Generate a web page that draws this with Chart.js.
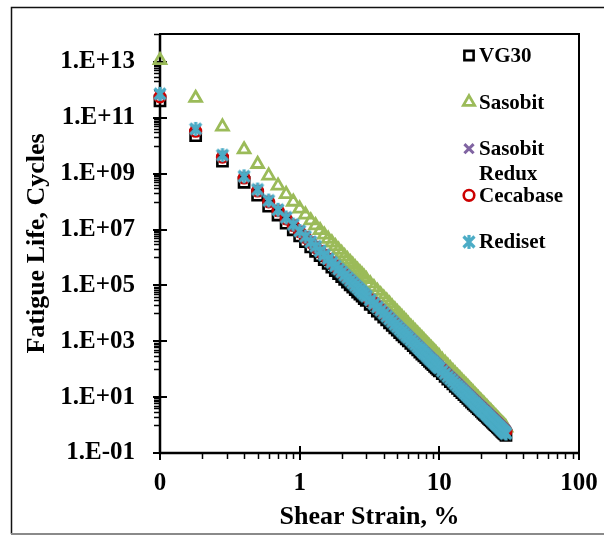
<!DOCTYPE html>
<html>
<head>
<meta charset="utf-8">
<script src="https://cdn.jsdelivr.net/npm/chart.js@4.4.1/dist/chart.umd.min.js"></script>
<style>
  html, body { margin: 0; padding: 0; background: #fff; }
  #wrap { width: 604px; height: 536px; }
</style>
</head>
<body>
<div id="wrap"><canvas id="chart" width="604" height="536"></canvas></div>
<script>
// Shear strain (%) at which fatigue life was evaluated
const strain = [
  0.1, 0.18, 0.28, 0.4, 0.5, 0.6, 0.7, 0.8, 0.9, 1.0,
  1.1, 1.2, 1.3, 1.4, 1.5, 1.6, 1.7, 1.8, 1.9, 2.0,
  2.1, 2.2, 2.3, 2.4, 2.5, 2.6, 2.7, 2.8, 2.9, 3.0,
  3.2, 3.4, 3.6, 3.8, 4.0, 4.2, 4.4, 4.6, 4.8, 5.0,
  5.2, 5.4, 5.6, 5.8, 6.0, 6.25, 6.5, 6.75, 7.0, 7.25,
  7.5, 7.75, 8.0, 8.25, 8.5, 8.75, 9.0, 9.25, 9.5, 9.75,
  10, 10.5, 11, 11.5, 12, 12.5, 13, 13.5, 14, 14.5,
  15, 15.5, 16, 16.5, 17, 17.5, 18, 18.5, 19, 19.5,
  20, 20.5, 21, 21.5, 22, 22.5, 23, 23.5, 24, 24.5,
  25, 25.5, 26, 26.5, 27, 27.5, 28, 28.5, 29, 29.5, 30
];

// Fatigue life (cycles) for each binder
const vg30 = [
  4.0e11, 2.3e10, 2.8e9, 4.9e8, 1.7e8, 6.9e7, 3.3e7, 1.7e7, 9.8e6, 5.9e6,
  3.7e6, 2.4e6, 1.66e6, 1.16e6, 8.3e5, 6.1e5, 4.5e5, 3.4e5, 2.65e5, 2.07e5,
  1.64e5, 1.31e5, 1.05e5, 8.6e4, 7.0e4, 5.8e4, 4.9e4, 4.1e4, 3.4e4, 2.9e4,
  2.1e4, 1.6e4, 1.21e4, 9.3e3, 7.3e3, 5.8e3, 4.6e3, 3.7e3, 3.0e3, 2.5e3,
  2.05e3, 1.71e3, 1.43e3, 1.21e3, 1.03e3, 840, 700, 580, 490, 410,
  350, 300, 260, 220, 191, 166, 145, 127, 112, 98,
  87, 69, 55, 44, 36, 30, 24.5, 20.5, 17.1, 14.5,
  12.3, 10.5, 9.0, 7.7, 6.7, 5.8, 5.1, 4.5, 3.9, 3.5,
  3.1, 2.7, 2.4, 2.2, 1.93, 1.73, 1.56, 1.41, 1.27, 1.15,
  1.04, 0.95, 0.86, 0.79, 0.72, 0.66, 0.60, 0.55, 0.51, 0.47, 0.43
];

const sasobit = [
  1.15e13, 5.1e11, 4.8e10, 7.3e9, 2.2e9, 8.5e8, 3.7e8, 1.84e8, 9.8e7, 5.6e7,
  3.4e7, 2.1e7, 1.40e7, 9.4e6, 6.5e6, 4.6e6, 3.4e6, 2.5e6, 1.86e6, 1.42e6,
  1.09e6, 8.5e5, 6.7e5, 5.4e5, 4.3e5, 3.5e5, 2.9e5, 2.4e5, 1.97e5, 1.65e5,
  1.17e5, 8.5e4, 6.3e4, 4.7e4, 3.6e4, 2.8e4, 2.2e4, 1.70e4, 1.36e4, 1.09e4,
  8.9e3, 7.3e3, 6.0e3, 5.0e3, 4.1e3, 3.3e3, 2.7e3, 2.2e3, 1.83e3, 1.52e3,
  1.27e3, 1.07e3, 900, 760, 650, 560, 480, 420, 360, 310,
  280, 210, 166, 131, 104, 84, 68, 56, 46, 38,
  32, 27, 23, 19.3, 16.5, 14.1, 12.1, 10.5, 9.1, 7.9,
  6.9, 6.1, 5.4, 4.7, 4.2, 3.7, 3.3, 3.0, 2.6, 2.4,
  2.1, 1.91, 1.72, 1.56, 1.41, 1.28, 1.16, 1.06, 0.97, 0.88, 0.81
];

const sasobitRedux = [
  6.6e11, 3.8e10, 4.5e9, 7.9e8, 2.7e8, 1.11e8, 5.3e7, 2.8e7, 1.56e7, 9.3e6,
  5.9e6, 3.8e6, 2.6e6, 1.82e6, 1.31e6, 9.5e5, 7.1e5, 5.4e5, 4.1e5, 3.2e5,
  2.6e5, 2.0e5, 1.64e5, 1.34e5, 1.10e5, 9.1e4, 7.5e4, 6.3e4, 5.3e4, 4.5e4,
  3.3e4, 2.5e4, 1.87e4, 1.44e4, 1.12e4, 8.9e3, 7.1e3, 5.7e3, 4.6e3, 3.8e3,
  3.1e3, 2.6e3, 2.2e3, 1.85e3, 1.57e3, 1.29e3, 1.07e3, 890, 740, 630,
  530, 450, 390, 330, 290, 250, 220, 193, 169, 149,
  132, 104, 83, 67, 54, 45, 37, 31, 26, 22,
  18.4, 15.7, 13.5, 11.6, 10.0, 8.7, 7.6, 6.7, 5.8, 5.2,
  4.6, 4.1, 3.6, 3.2, 2.9, 2.6, 2.3, 2.1, 1.89, 1.71,
  1.55, 1.41, 1.28, 1.17, 1.06, 0.98, 0.89, 0.82, 0.76, 0.70, 0.64
];

const cecabase = [
  5.6e11, 3.3e10, 3.9e9, 7.0e8, 2.4e8, 9.8e7, 4.7e7, 2.4e7, 1.38e7, 8.3e6,
  5.2e6, 3.4e6, 2.3e6, 1.64e6, 1.17e6, 8.6e5, 6.4e5, 4.9e5, 3.7e5, 2.9e5,
  2.3e5, 1.85e5, 1.49e5, 1.21e5, 9.9e4, 8.2e4, 6.9e4, 5.8e4, 4.9e4, 4.1e4,
  3.0e4, 2.3e4, 1.71e4, 1.32e4, 1.03e4, 8.1e3, 6.5e3, 5.2e3, 4.3e3, 3.5e3,
  2.9e3, 2.4e3, 2.02e3, 1.71e3, 1.45e3, 1.19e3, 990, 820, 690, 580,
  490, 420, 360, 310, 270, 230, 205, 179, 158, 139,
  123, 97, 78, 63, 51, 42, 35, 29, 24, 20,
  17.3, 14.8, 12.7, 10.9, 9.5, 8.2, 7.2, 6.3, 5.5, 4.9,
  4.3, 3.8, 3.4, 3.1, 2.7, 2.4, 2.2, 1.99, 1.79, 1.62,
  1.47, 1.34, 1.22, 1.11, 1.01, 0.93, 0.85, 0.78, 0.72, 0.66, 0.61
];

const rediset = [
  7.2e11, 4.0e10, 4.6e9, 8.0e8, 2.7e8, 1.09e8, 5.1e7, 2.7e7, 1.50e7, 8.9e6,
  5.6e6, 3.6e6, 2.5e6, 1.71e6, 1.22e6, 8.9e5, 6.6e5, 5.0e5, 3.8e5, 3.0e5,
  2.3e5, 1.86e5, 1.49e5, 1.21e5, 9.9e4, 8.2e4, 6.8e4, 5.7e4, 4.8e4, 4.1e4,
  3.0e4, 2.2e4, 1.66e4, 1.27e4, 9.9e3, 7.8e3, 6.2e3, 5.0e3, 4.0e3, 3.3e3,
  2.7e3, 2.25e3, 1.89e3, 1.59e3, 1.35e3, 1.10e3, 910, 760, 630, 530,
  450, 380, 330, 280, 240, 210, 184, 161, 141, 124,
  110, 86, 69, 55, 45, 37, 30, 25, 21, 17.7,
  15.0, 12.8, 10.9, 9.4, 8.1, 7.0, 6.1, 5.3, 4.7, 4.1,
  3.6, 3.2, 2.9, 2.6, 2.3, 2.05, 1.84, 1.65, 1.49, 1.35,
  1.22, 1.11, 1.01, 0.92, 0.84, 0.76, 0.70, 0.64, 0.59, 0.54, 0.50
];

const seriesNames = ['VG30', 'Sasobit', 'Sasobit Redux', 'Cecabase', 'Rediset'];

// Axis tick values and their printed labels
const xTickValues = [0.1, 1, 10, 100];
const xTickLabels = ['0', '1', '10', '100'];
const yTickValues = [1e-1, 1e1, 1e3, 1e5, 1e7, 1e9, 1e11, 1e13];
const yTickLabels = ['1.E-01', '1.E+01', '1.E+03', '1.E+05', '1.E+07', '1.E+09', '1.E+11', '1.E+13'];

const FONT = 'Liberation Serif';

// Asterisk-style marker (X with a vertical bar)
function makeStar(color) {
  const c = document.createElement('canvas');
  c.width = 16; c.height = 16;
  const g = c.getContext('2d');
  g.strokeStyle = color;
  g.lineWidth = 3.2;
  g.beginPath();
  g.moveTo(2.5, 2.5); g.lineTo(13.5, 13.5);
  g.moveTo(13.5, 2.5); g.lineTo(2.5, 13.5);
  g.moveTo(8, 1); g.lineTo(8, 15);
  g.stroke();
  return c;
}

const styles = [
  { color: '#000000', pointStyle: 'rect', radius: 7.2, width: 2.6, order: 5 },
  { color: '#9BBB59', pointStyle: 'triangle', radius: 6.8, width: 2.8, order: 4 },
  { color: '#8064A2', pointStyle: 'crossRot', radius: 6.5, width: 3, order: 3 },
  { color: '#CC0000', pointStyle: 'circle', radius: 5.3, width: 2.6, order: 2 },
  { color: '#4BACC6', pointStyle: makeStar('#4BACC6'), radius: 8, width: 3, order: 1 }
];

const seriesValues = [vg30, sasobit, sasobitRedux, cecabase, rediset];

const datasets = seriesValues.map((vals, k) => ({
  label: seriesNames[k],
  data: strain.map((x, i) => ({ x: x, y: vals[i] })),
  showLine: false,
  pointStyle: styles[k].pointStyle,
  pointRadius: styles[k].radius,
  pointHoverRadius: styles[k].radius,
  pointBorderWidth: styles[k].width,
  pointHoverBorderWidth: styles[k].width,
  pointBorderColor: styles[k].color,
  pointBackgroundColor: 'rgba(0,0,0,0)',
  order: styles[k].order,
  clip: false
}));

// Outer frame, plot border, axis lines and tick marks
const axesPlugin = {
  id: 'axesAndFrame',
  beforeDraw(chart) {
    const ctx = chart.ctx;
    ctx.save();
    ctx.fillStyle = '#ffffff';
    ctx.fillRect(0, 0, chart.width, chart.height);
    ctx.lineWidth = 1.5;
    ctx.strokeStyle = '#111';
    ctx.beginPath();
    ctx.moveTo(11.5, chart.height - 2);
    ctx.lineTo(11.5, 7.5);
    ctx.lineTo(chart.width, 7.5);
    ctx.stroke();
    ctx.strokeStyle = '#8a8a8a';
    ctx.lineWidth = 2;
    ctx.beginPath();
    ctx.moveTo(11, chart.height - 2);
    ctx.lineTo(chart.width, chart.height - 2);
    ctx.stroke();
    ctx.restore();
  },
  beforeDatasetsDraw(chart) {
    const ctx = chart.ctx;
    const { left, right, top, bottom } = chart.chartArea;
    const xs = chart.scales.x, ys = chart.scales.y;
    ctx.save();
    ctx.strokeStyle = '#000';
    ctx.lineCap = 'butt';

    // minor ticks
    ctx.lineWidth = 1.5;
    ctx.beginPath();
    for (let k = -1; k <= 13; k += 2) {
      for (let m = 1; m <= 9; m++) {
        const v = m * Math.pow(10, k + 1);
        if (v > 1e14 * 1.0001) continue;
        const p = Math.round(ys.getPixelForValue(v)) + 0.5;
        ctx.moveTo(left - 6, p); ctx.lineTo(left, p);
      }
    }
    for (let k = -1; k <= 1; k++) {
      for (let m = 2; m <= 9; m++) {
        const p = Math.round(xs.getPixelForValue(m * Math.pow(10, k))) + 0.5;
        ctx.moveTo(p, bottom); ctx.lineTo(p, bottom + 6);
      }
    }
    ctx.stroke();

    // major ticks
    ctx.lineWidth = 2;
    ctx.beginPath();
    yTickValues.forEach(v => {
      const p = Math.round(ys.getPixelForValue(v));
      ctx.moveTo(left - 7, p); ctx.lineTo(left + 7, p);
    });
    xTickValues.forEach(v => {
      const p = Math.round(xs.getPixelForValue(v));
      ctx.moveTo(p, bottom - 7); ctx.lineTo(p, bottom + 7);
    });
    ctx.stroke();

    // plot border and axis lines
    ctx.lineWidth = 2;
    ctx.strokeRect(left, top, right - left, bottom - top);
    ctx.lineWidth = 2.5;
    ctx.beginPath();
    ctx.moveTo(left, top); ctx.lineTo(left, bottom); ctx.lineTo(right, bottom);
    ctx.stroke();
    ctx.restore();
  }
};

// Legend drawn inside the plot area, one entry per series
const legendPlugin = {
  id: 'innerLegend',
  afterDatasetsDraw(chart) {
    const ctx = chart.ctx;
    const { top } = chart.chartArea;
    const markerX = 469, textX = 479, maxTextWidth = 100;
    ctx.save();
    ctx.font = 'bold 21px "' + FONT + '"';
    ctx.textBaseline = 'alphabetic';
    ctx.textAlign = 'left';
    chart.data.datasets.forEach((ds, k) => {
      const baseline = top + 28 + k * 46.6;
      // wrap label into lines
      const words = ds.label.split(' ');
      const lines = [];
      let cur = '';
      words.forEach(w => {
        const t = cur ? cur + ' ' + w : w;
        if (ctx.measureText(t).width > maxTextWidth && cur) { lines.push(cur); cur = w; }
        else cur = t;
      });
      lines.push(cur);
      ctx.fillStyle = '#000';
      lines.forEach((ln, j) => ctx.fillText(ln, textX, baseline + j * 25));
      ctx.strokeStyle = ds.pointBorderColor;
      ctx.fillStyle = 'rgba(0,0,0,0)';
      ctx.lineWidth = ds.pointBorderWidth;
      Chart.helpers.drawPoint(ctx, {
        pointStyle: ds.pointStyle,
        rotation: 0,
        radius: Math.min(ds.pointRadius, 6.5),
        borderWidth: ds.pointBorderWidth
      }, markerX, baseline - 6.5);
    });
    ctx.restore();
  }
};

// Keep the plot box fixed: scale sizes are set explicitly and label overhang padding removed
function fixBox(size, horizontal) {
  return (axis) => {
    if (horizontal) axis.height = size; else axis.width = size;
    axis.paddingLeft = 0; axis.paddingRight = 0;
    axis.paddingTop = 0; axis.paddingBottom = 0;
  };
}

new Chart(document.getElementById('chart'), {
  type: 'scatter',
  data: { datasets: datasets },
  options: {
    responsive: false,
    devicePixelRatio: 1,
    animation: false,
    events: [],
    layout: { padding: { left: 0, top: 34, right: 25, bottom: 0 } },
    plugins: {
      legend: { display: false },
      tooltip: { enabled: false }
    },
    scales: {
      x: {
        type: 'logarithmic',
        min: 0.1,
        max: 100,
        grid: { display: false, drawTicks: false },
        border: { display: false },
        afterBuildTicks: (axis) => { axis.ticks = xTickValues.map(v => ({ value: v })); },
        afterFit: fixBox(83, true),
        ticks: {
          autoSkip: false,
          maxRotation: 0,
          minRotation: 0,
          padding: 16,
          color: '#000',
          font: { family: FONT, size: 25, weight: 'bold' },
          callback: (value, index) => xTickLabels[index]
        },
        title: {
          display: true,
          text: 'Shear Strain, %',
          color: '#000',
          font: { family: FONT, size: 26, weight: 'bold' },
          padding: { top: 0, bottom: 3 }
        }
      },
      y: {
        type: 'logarithmic',
        min: 1e-1,
        max: 1e14,
        grid: { display: false, drawTicks: false },
        border: { display: false },
        afterBuildTicks: (axis) => { axis.ticks = yTickValues.map(v => ({ value: v })); },
        afterFit: fixBox(160, false),
        ticks: {
          autoSkip: false,
          padding: 25,
          color: '#000',
          font: { family: FONT, size: 25, weight: 'bold' },
          callback: (value, index) => yTickLabels[index]
        },
        title: {
          display: true,
          text: 'Fatigue Life, Cycles',
          color: '#000',
          font: { family: FONT, size: 26, weight: 'bold' },
          padding: { top: 22, bottom: 0 }
        }
      }
    }
  },
  plugins: [axesPlugin, legendPlugin]
});
</script>
</body>
</html>
